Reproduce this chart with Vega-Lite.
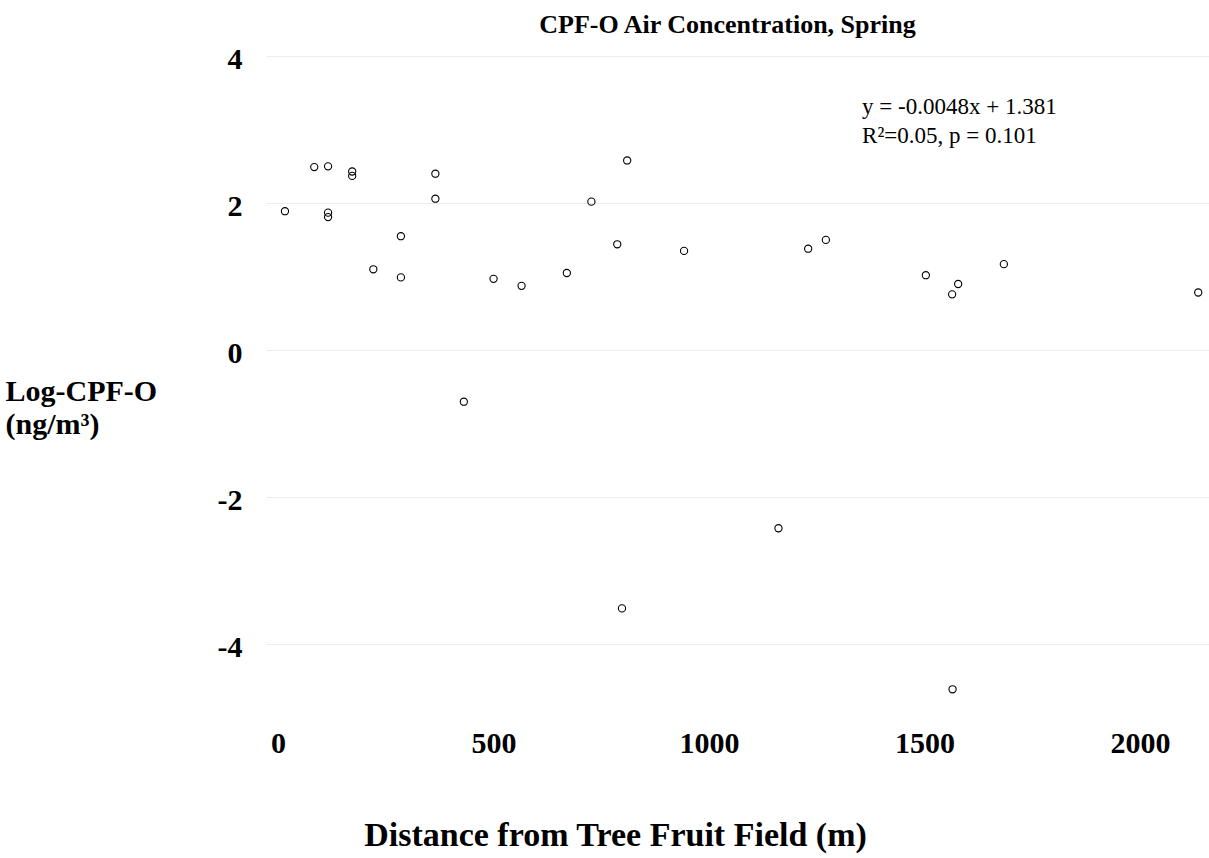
{
  "$schema": "https://vega.github.io/schema/vega-lite/v6.json",
  "autosize": "none",
  "padding": {"left": 266, "top": 56, "right": 0, "bottom": 140},
  "width": 943,
  "height": 662,
  "background": "white",
  "config": {
    "view": {"stroke": null},
    "font": "Liberation Serif"
  },
  "title": {
    "text": "CPF-O Air Concentration, Spring",
    "font": "Liberation Serif",
    "fontSize": 26,
    "fontWeight": "bold",
    "color": "black",
    "anchor": "middle",
    "frame": "group",
    "offset": 6,
    "dx": -10
  },
  "layer": [
    {
      "data": {
        "values": [
          {"distance": 16, "logcpfo": 1.89},
          {"distance": 84, "logcpfo": 2.49},
          {"distance": 116, "logcpfo": 2.50},
          {"distance": 116, "logcpfo": 1.87},
          {"distance": 116, "logcpfo": 1.81},
          {"distance": 172, "logcpfo": 2.43},
          {"distance": 172, "logcpfo": 2.37},
          {"distance": 221, "logcpfo": 1.10},
          {"distance": 285, "logcpfo": 1.55},
          {"distance": 285, "logcpfo": 0.99},
          {"distance": 365, "logcpfo": 2.40},
          {"distance": 365, "logcpfo": 2.06},
          {"distance": 431, "logcpfo": -0.70},
          {"distance": 500, "logcpfo": 0.97},
          {"distance": 565, "logcpfo": 0.875},
          {"distance": 670, "logcpfo": 1.05},
          {"distance": 727, "logcpfo": 2.02},
          {"distance": 787, "logcpfo": 1.44},
          {"distance": 798, "logcpfo": -3.51},
          {"distance": 810, "logcpfo": 2.58},
          {"distance": 942, "logcpfo": 1.35},
          {"distance": 1161, "logcpfo": -2.42},
          {"distance": 1230, "logcpfo": 1.38},
          {"distance": 1271, "logcpfo": 1.50},
          {"distance": 1503, "logcpfo": 1.02},
          {"distance": 1564, "logcpfo": 0.76},
          {"distance": 1565, "logcpfo": -4.61},
          {"distance": 1578, "logcpfo": 0.90},
          {"distance": 1684, "logcpfo": 1.17},
          {"distance": 2135, "logcpfo": 0.785}
        ]
      },
      "mark": {"type": "point", "shape": "circle", "filled": false, "stroke": "black", "strokeWidth": 1.1, "size": 52, "opacity": 1},
      "encoding": {
        "x": {
          "field": "distance",
          "type": "quantitative",
          "scale": {"domain": [-28, 2160], "nice": false, "zero": false},
          "axis": {
            "values": [0, 500, 1000, 1500, 2000],
            "grid": false,
            "domain": false,
            "ticks": false,
            "tickSize": 0,
            "labelExpr": "'' + datum.value",
            "labelFont": "Liberation Serif",
            "labelFontSize": 30,
            "labelFontWeight": "bold",
            "labelColor": "black",
            "labelBaseline": "alphabetic",
            "labelPadding": 34,
            "labelOverlap": false,
            "labelFlush": false,
            "title": "Distance from Tree Fruit Field (m)",
            "titleFont": "Liberation Serif",
            "titleFontSize": 34,
            "titleFontWeight": "bold",
            "titleColor": "black",
            "titleAlign": "center",
            "titleBaseline": "alphabetic",
            "titleX": 349,
            "titleY": 127
          }
        },
        "y": {
          "field": "logcpfo",
          "type": "quantitative",
          "scale": {"domain": [-5, 4], "nice": false, "zero": false},
          "axis": {
            "values": [-4, -2, 0, 2, 4],
            "grid": true,
            "gridColor": "#ececec",
            "gridWidth": 1,
            "domain": false,
            "ticks": false,
            "tickSize": 0,
            "labelExpr": "'' + datum.value",
            "labelFont": "Liberation Serif",
            "labelFontSize": 30,
            "labelFontWeight": "bold",
            "labelColor": "black",
            "labelAlign": "right",
            "labelBaseline": "alphabetic",
            "labelOffset": 12,
            "labelPadding": 24,
            "labelOverlap": false,
            "labelFlush": false,
            "labelBound": false,
            "title": ["Log-CPF-O", "(ng/m³)"],
            "titleFont": "Liberation Serif",
            "titleFontSize": 30,
            "titleFontWeight": "bold",
            "titleColor": "black",
            "titleAngle": 0,
            "titleAlign": "left",
            "titleBaseline": "alphabetic",
            "titleLineHeight": 33,
            "titleX": -261,
            "titleY": 344
          }
        }
      }
    },
    {
      "data": {
        "values": [
          {"distance": 1355, "logcpfo": 3.21, "note": "y = -0.0048x + 1.381\nR²=0.05, p = 0.101"}
        ]
      },
      "mark": {
        "type": "text",
        "align": "left",
        "baseline": "alphabetic",
        "font": "Liberation Serif",
        "fontSize": 23,
        "color": "black",
        "lineBreak": "\n",
        "lineHeight": 29
      },
      "encoding": {
        "x": {"field": "distance", "type": "quantitative"},
        "y": {"field": "logcpfo", "type": "quantitative"},
        "text": {"field": "note"}
      }
    }
  ]
}
